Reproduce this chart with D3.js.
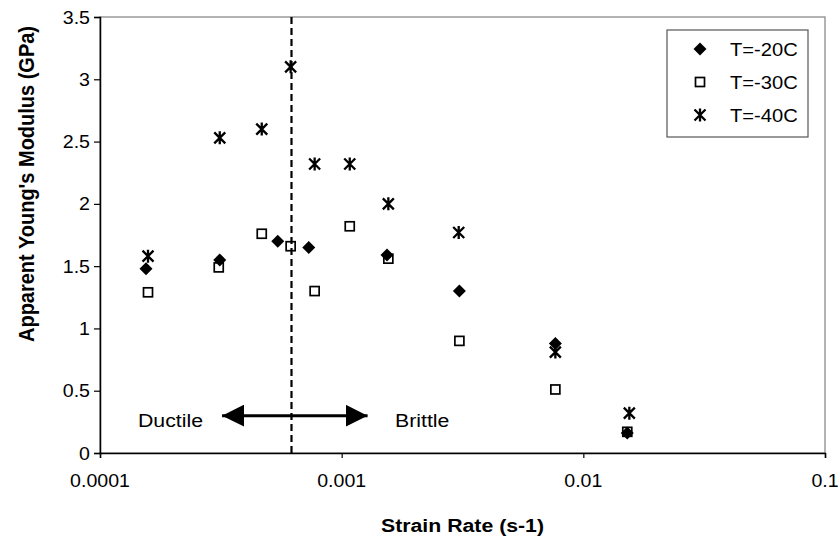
<!DOCTYPE html>
<html>
<head>
<meta charset="utf-8">
<script src="https://cdn.jsdelivr.net/npm/d3@7"></script>
<style>
  body { margin: 0; background: #fff; }
  text { font-family: "Liberation Sans", Arial, sans-serif; }
</style>
</head>
<body>
<svg id="chart"></svg>
<script>
// strain rate (s-1) and apparent Young's modulus (GPa)
const rate20 = [1.55e-4, 3.13e-4, 5.44e-4, 7.31e-4, 1.54e-3, 3.07e-3, 7.66e-3, 1.52e-2];
const mod20 = [1.48, 1.55, 1.70, 1.65, 1.59, 1.30, 0.88, 0.16];

const rate30 = [1.58e-4, 3.10e-4, 4.67e-4, 6.15e-4, 7.73e-4, 1.08e-3, 1.56e-3, 3.07e-3, 7.66e-3, 1.52e-2];
const mod30 = [1.29, 1.49, 1.76, 1.66, 1.30, 1.82, 1.56, 0.90, 0.51, 0.17];

const rate40 = [1.58e-4, 3.13e-4, 4.67e-4, 6.15e-4, 7.73e-4, 1.08e-3, 1.56e-3, 3.05e-3, 7.66e-3, 1.55e-2];
const mod40 = [1.58, 2.53, 2.60, 3.10, 2.32, 2.32, 2.00, 1.77, 0.81, 0.32];

const seriesNames = ["T=-20C", "T=-30C", "T=-40C"];
const xTicks = [0.0001, 0.001, 0.01, 0.1];
const xTickLabels = ["0.0001", "0.001", "0.01", "0.1"];
const yTicks = [0, 0.5, 1, 1.5, 2, 2.5, 3, 3.5];

// ductile / brittle transition and arrow
const transitionRate = 6.2e-4;
const arrowRates = [3.2e-4, 1.28e-3];
const arrowLevel = 0.30;

const width = 838;
const height = 540;
const margin = { top: 17, right: 13, bottom: 87, left: 100 };
const sx = 1.12; // text in the picture is a bit wide

const svg = d3.select("#chart").attr("width", width).attr("height", height);

const x = d3.scaleLog()
  .domain([1e-4, 0.1])
  .range([margin.left, width - margin.right]);

const y = d3.scaleLinear()
  .domain([0, 3.5])
  .range([height - margin.bottom, margin.top]);

const y0 = y(0);

// plot area border
svg.append("rect")
  .attr("x", x(1e-4))
  .attr("y", y(3.5))
  .attr("width", x(0.1) - x(1e-4))
  .attr("height", y(0) - y(3.5))
  .attr("fill", "none")
  .attr("stroke", "#808080")
  .attr("stroke-width", 1.2);

// axes
const xAxis = svg.append("g")
  .attr("transform", `translate(0,${y0})`)
  .call(d3.axisBottom(x).tickValues(xTicks).tickSize(5).tickFormat(""));
const yAxis = svg.append("g")
  .attr("transform", `translate(${margin.left},0)`)
  .call(d3.axisLeft(y).tickValues(yTicks).tickSize(6).tickFormat(""));
[xAxis, yAxis].forEach((a) => {
  a.select(".domain").attr("stroke", "#000").attr("stroke-width", 1.5);
  a.selectAll(".tick line").attr("stroke", "#000").attr("stroke-width", 1.2);
});

// tick labels (drawn by hand so they can be stretched like the original)
const stretchText = (g, tx, ty, str, size, anchor, weight) =>
  g.append("text")
    .attr("transform", `translate(${tx},${ty}) scale(${sx},1)`)
    .attr("text-anchor", anchor)
    .style("font-size", size + "px")
    .style("font-weight", weight || "normal")
    .text(str);

xTicks.forEach((t, i) => stretchText(svg, x(t), y0 + 34, xTickLabels[i], 17.5, "middle"));
yTicks.forEach((t) => stretchText(svg, margin.left - 10, y(t) + 6.5, String(t), 17.5, "end"));

// axis titles
stretchText(svg, (x(1e-4) + x(0.1)) / 2, 532, "Strain Rate (s-1)", 19, "middle", "bold");
svg.append("text")
  .attr("transform", `translate(34,184) scale(${sx},1) rotate(-90)`)
  .attr("text-anchor", "middle")
  .style("font-size", "20px")
  .style("font-weight", "bold")
  .text("Apparent Young's Modulus (GPa)");

// dashed transition line
svg.append("line")
  .attr("x1", x(transitionRate))
  .attr("x2", x(transitionRate))
  .attr("y1", y(3.5))
  .attr("y2", y0)
  .attr("stroke", "#000")
  .attr("stroke-width", 2.2)
  .attr("stroke-dasharray", "7,4");

// double arrow
const defs = svg.append("defs");
defs.append("marker")
  .attr("id", "head")
  .attr("viewBox", "0 0 10 10")
  .attr("refX", 10)
  .attr("refY", 5)
  .attr("markerWidth", 22)
  .attr("markerHeight", 22)
  .attr("markerUnits", "userSpaceOnUse")
  .attr("orient", "auto-start-reverse")
  .append("path")
  .attr("d", "M0,0 L10,5 L0,10 Z")
  .attr("fill", "#000");

svg.append("line")
  .attr("x1", x(arrowRates[0]))
  .attr("x2", x(arrowRates[1]))
  .attr("y1", y(arrowLevel))
  .attr("y2", y(arrowLevel))
  .attr("stroke", "#000")
  .attr("stroke-width", 3)
  .attr("marker-start", "url(#head)")
  .attr("marker-end", "url(#head)");

stretchText(svg, 138, y(arrowLevel) + 11, "Ductile", 19, "start");
stretchText(svg, 395, y(arrowLevel) + 11, "Brittle", 19, "start");

// marker shapes
const drawSquare = (g) => g.append("rect")
  .attr("x", -4.5).attr("y", -4.5).attr("width", 9).attr("height", 9)
  .attr("fill", "none").attr("stroke", "#000").attr("stroke-width", 1.7);
const drawDiamond = (g) => g.append("path")
  .attr("d", "M0,-6.5 L6.5,0 L0,6.5 L-6.5,0 Z")
  .attr("fill", "#000");
const drawStar = (g) => g.append("path")
  .attr("d", "M-5.5,-5.5 L5.5,5.5 M-5.5,5.5 L5.5,-5.5 M0,-6.5 L0,6.5")
  .attr("stroke", "#000").attr("stroke-width", 2.3).attr("fill", "none");

const plotSeries = (rates, mods, shape) => {
  rates.forEach((r, i) => {
    const g = svg.append("g").attr("transform", `translate(${x(r)},${y(mods[i])})`);
    shape(g);
  });
};

plotSeries(rate30, mod30, drawSquare);
plotSeries(rate20, mod20, drawDiamond);
plotSeries(rate40, mod40, drawStar);

// legend
const legend = svg.append("g").attr("transform", "translate(667,30)");
legend.append("rect")
  .attr("width", 141)
  .attr("height", 107)
  .attr("fill", "#fff")
  .attr("stroke", "#555")
  .attr("stroke-width", 1.2);

const shapes = [drawDiamond, drawSquare, drawStar];
seriesNames.forEach((name, i) => {
  const row = legend.append("g").attr("transform", `translate(0,${19 + i * 33})`);
  shapes[i](row.append("g").attr("transform", "translate(33,0)"));
  stretchText(row, 63, 6.5, name, 18, "start");
});
</script>
</body>
</html>
